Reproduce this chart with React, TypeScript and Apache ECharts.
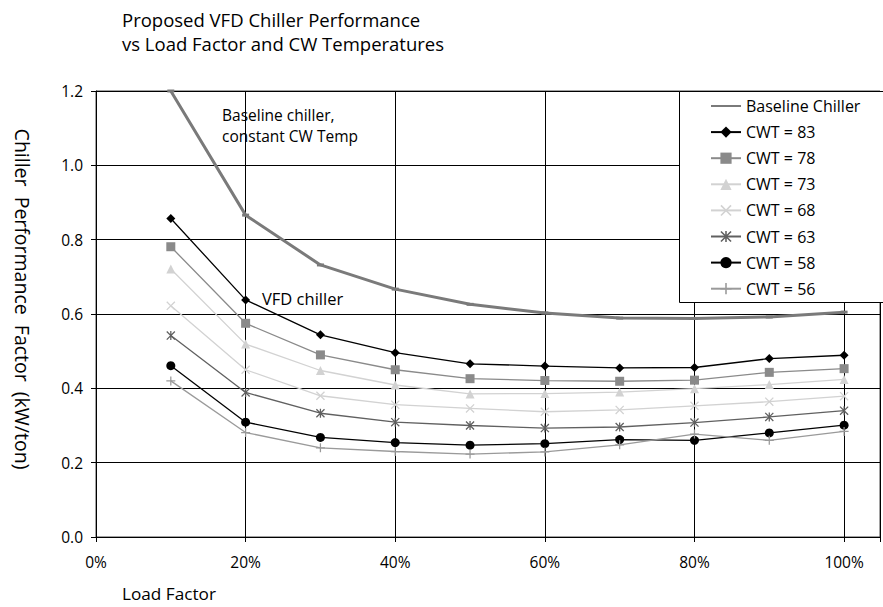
import React, { useEffect, useRef } from "react";
import * as echarts from "echarts";

const loadFactor = [0.1, 0.2, 0.3, 0.4, 0.5, 0.6, 0.7, 0.8, 0.9, 1.0];
const baseline = [1.2, 0.866, 0.732, 0.667, 0.626, 0.603, 0.589, 0.588, 0.592, 0.605];
const cwt83 = [0.857, 0.638, 0.544, 0.496, 0.466, 0.46, 0.455, 0.456, 0.48, 0.489];
const cwt78 = [0.781, 0.575, 0.49, 0.45, 0.426, 0.421, 0.419, 0.422, 0.443, 0.453];
const cwt73 = [0.721, 0.519, 0.448, 0.409, 0.385, 0.386, 0.39, 0.399, 0.41, 0.424];
const cwt68 = [0.622, 0.45, 0.38, 0.356, 0.346, 0.337, 0.342, 0.353, 0.364, 0.379];
const cwt63 = [0.542, 0.389, 0.333, 0.309, 0.3, 0.293, 0.296, 0.308, 0.323, 0.34];
const cwt58 = [0.461, 0.309, 0.268, 0.254, 0.247, 0.251, 0.262, 0.26, 0.28, 0.301];
const cwt56 = [0.42, 0.281, 0.24, 0.23, 0.223, 0.229, 0.248, 0.277, 0.26, 0.284];
const seriesNames = [
  "Baseline Chiller",
  "CWT = 83",
  "CWT = 78",
  "CWT = 73",
  "CWT = 68",
  "CWT = 63",
  "CWT = 58",
  "CWT = 56",
];
const chartTitle = "Proposed VFD Chiller Performance\nvs Load Factor and CW Temperatures";
const yTitle = "Chiller  Performance  Factor  (kW/ton)";
const xTitle = "Load Factor";
const baselineNote1 = "Baseline chiller,";
const baselineNote2 = "constant CW Temp";
const vfdNote = "VFD chiller";

const FONT = "'Open Sans', sans-serif";

const PLUS = "path://M4.3,0 L5.7,0 L5.7,4.3 L10,4.3 L10,5.7 L5.7,5.7 L5.7,10 L4.3,10 L4.3,5.7 L0,5.7 L0,4.3 L4.3,4.3 Z";
const CROSS = "path://M0,1 L1,0 L10,9 L9,10 Z M9,0 L10,1 L1,10 L0,9 Z";
const STAR = "path://M0,1 L1,0 L10,9 L9,10 Z M9,0 L10,1 L1,10 L0,9 Z M4.3,0 L5.7,0 L5.7,10 L4.3,10 Z";

function pairs(vals: number[]) {
  return loadFactor.map((x, i) => [x, vals[i]]);
}

export default function App() {
  const ref = useRef<HTMLDivElement>(null);
  useEffect(() => {
    if (!ref.current) return;
    const chart = echarts.init(ref.current, undefined, { renderer: "svg" });
    const mk = (
      name: string,
      vals: number[],
      color: string,
      symbol: string,
      size: number | number[],
      width: number
    ) => ({
      name,
      type: "line",
      data: pairs(vals),
      symbol,
      symbolSize: size,
      lineStyle: { color, width },
      itemStyle: { color, borderWidth: 0 },
      z: 3,
    });
    chart.setOption({
      animation: false,
      backgroundColor: "#fff",
      textStyle: { fontFamily: FONT },
      title: {
        text: chartTitle,
        left: 117,
        top: 3,
        textStyle: {
          fontFamily: FONT,
          fontSize: 18.5,
          fontWeight: "normal",
          color: "#000",
          lineHeight: 23.4,
        },
      },
      grid: {
        left: 96,
        right: 2,
        top: 91,
        bottom: 70,
        show: true,
        borderColor: "#444",
        borderWidth: 1,
      },
      xAxis: {
        type: "value",
        min: 0,
        max: 1.048,
        interval: 0.2,
        axisLine: { show: true, lineStyle: { color: "#000", width: 1 } },
        axisTick: { show: true, length: 5, lineStyle: { color: "#000" } },
        splitLine: { show: true, lineStyle: { color: "#000", width: 1 } },
        axisLabel: {
          margin: 17,
          fontSize: 15.5,
          color: "#000",
          fontFamily: FONT,
          formatter: (v: number) => (v > 1.0001 ? "" : Math.round(v * 100) + "%"),
        },
      },
      yAxis: {
        type: "value",
        min: 0,
        max: 1.2,
        interval: 0.2,
        axisLine: { show: true, lineStyle: { color: "#000", width: 1 } },
        axisTick: { show: true, length: 5, lineStyle: { color: "#000" } },
        splitLine: { show: true, lineStyle: { color: "#000", width: 1 } },
        axisLabel: {
          margin: 13,
          fontSize: 15.5,
          color: "#000",
          fontFamily: FONT,
          formatter: (v: number) => v.toFixed(1),
        },
      },
      legend: {
        orient: "vertical",
        left: 705,
        top: 93,
        itemWidth: 30,
        itemHeight: 14,
        itemGap: 10.1,
        z: 20,
        data: seriesNames.map((n, i) =>
          i === 0 ? { name: n, itemStyle: { opacity: 0 } } : { name: n }
        ),
        textStyle: { fontSize: 16, lineHeight: 16, color: "#000", fontFamily: FONT },
      },
      graphic: [
        {
          type: "rect",
          z: 15,
          shape: { x: 679.5, y: 91.5, width: 220, height: 211 },
          style: { fill: "#fff", stroke: "#000", lineWidth: 1 },
        },
        {
          type: "text",
          z: 15,
          x: 222,
          y: 114.5,
          style: { text: baselineNote1, font: `15.5px ${FONT}`, fill: "#000", verticalAlign: "middle" },
        },
        {
          type: "text",
          z: 15,
          x: 222,
          y: 135.8,
          style: { text: baselineNote2, font: `15.5px ${FONT}`, fill: "#000", verticalAlign: "middle" },
        },
        {
          type: "text",
          z: 15,
          x: 262,
          y: 298,
          style: { text: vfdNote, font: `16.5px ${FONT}`, fill: "#000", verticalAlign: "middle" },
        },
        {
          type: "text",
          z: 15,
          x: 122,
          y: 593,
          style: { text: xTitle, font: `17.2px ${FONT}`, fill: "#000", verticalAlign: "middle" },
        },
        {
          type: "text",
          z: 15,
          x: 22,
          y: 299,
          rotation: -Math.PI / 2,
          style: {
            text: yTitle,
            font: `19.5px ${FONT}`,
            fill: "#000",
            align: "center",
            verticalAlign: "middle",
          },
        },
      ],
      series: [
        mk(seriesNames[0], baseline, "#7a7a7a", "rect", [7, 3], 3),
        mk(seriesNames[1], cwt83, "#000000", "diamond", 9, 1.3),
        mk(seriesNames[2], cwt78, "#8a8a8a", "rect", 9, 1.3),
        mk(seriesNames[3], cwt73, "#d2d2d2", "triangle", 9, 1.3),
        mk(seriesNames[4], cwt68, "#d2d2d2", CROSS, 9, 1.3),
        mk(seriesNames[5], cwt63, "#606060", STAR, 9, 1.3),
        mk(seriesNames[6], cwt58, "#000000", "circle", 9, 1.3),
        mk(seriesNames[7], cwt56, "#9a9a9a", PLUS, 9, 1.3),
      ],
    });
    return () => chart.dispose();
  }, []);
  return (
    <div
      ref={ref}
      style={{ position: "fixed", left: 0, top: 0, width: 883, height: 607, background: "#fff" }}
    />
  );
}
